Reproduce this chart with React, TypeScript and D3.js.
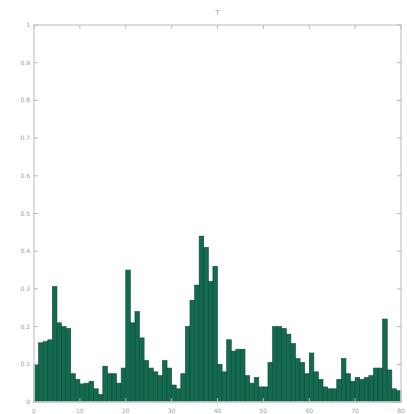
import React from "react";
import * as d3 from "d3";

const binValues: number[] = [
  0.1, 0.157, 0.16, 0.165, 0.306, 0.21, 0.2, 0.195, 0.075, 0.06,
  0.048, 0.05, 0.055, 0.035, 0.02, 0.095, 0.075, 0.075, 0.05, 0.09,
  0.35, 0.21, 0.24, 0.17, 0.11, 0.09, 0.08, 0.07, 0.11, 0.09,
  0.045, 0.035, 0.075, 0.2, 0.27, 0.31, 0.44, 0.41, 0.32, 0.36,
  0.1, 0.08, 0.165, 0.135, 0.14, 0.14, 0.07, 0.05, 0.065, 0.04,
  0.04, 0.105, 0.2, 0.2, 0.195, 0.18, 0.155, 0.115, 0.105, 0.075,
  0.13, 0.08, 0.06, 0.04, 0.035, 0.035, 0.06, 0.115, 0.075, 0.055,
  0.065, 0.06, 0.065, 0.07, 0.09, 0.09, 0.22, 0.085, 0.035, 0.03,
];
const xTicks: number[] = [0, 10, 20, 30, 40, 50, 60, 70, 80];
const yTicks: number[] = [0, 0.1, 0.2, 0.3, 0.4, 0.5, 0.6, 0.7, 0.8, 0.9, 1];
const titleText = "T";

export default function App() {
  const W = 407, H = 414;
  const m = { left: 34, right: 6, top: 25, bottom: 12 };
  const x = d3.scaleLinear().domain([0, 80]).range([m.left, W - m.right]);
  const y = d3.scaleLinear().domain([0, 1]).range([H - m.bottom, m.top]);
  const fmt = (v: number) => (v === 0 ? "0" : v === 1 ? "1" : d3.format(".1f")(v));
  const tickLen = 4;
  const tickColor = "#b8b8b8";
  const labelColor = "#a0a0a0";
  return (
    <svg width={W} height={H} style={{ position: "absolute", left: 0, top: 0, background: "#fff" }}>
      <g>
        {binValues.map((v, i) => (
          <rect
            key={i}
            x={x(i)}
            y={y(v)}
            width={x(i + 1) - x(i)}
            height={y(0) - y(v)}
            fill="#136a50"
            stroke="#0b4a38"
            strokeWidth={0.6}
          />
        ))}
      </g>
      <rect
        x={m.left}
        y={m.top}
        width={W - m.left - m.right}
        height={H - m.top - m.bottom}
        fill="none"
        stroke="#d4d4d4"
        strokeWidth={1.6}
      />
      {xTicks.map((t) => (
        <g key={"x" + t}>
          <line x1={x(t)} x2={x(t)} y1={y(0)} y2={y(0) - tickLen} stroke={tickColor} />
          <line x1={x(t)} x2={x(t)} y1={y(1)} y2={y(1) + tickLen} stroke={tickColor} />
          <text x={x(t)} y={H - 1} fontSize={6} fill={labelColor} textAnchor="middle" fontFamily="DejaVu Sans">
            {t}
          </text>
        </g>
      ))}
      {yTicks.map((t) => (
        <g key={"y" + t}>
          <line x1={m.left} x2={m.left + tickLen} y1={y(t)} y2={y(t)} stroke={tickColor} />
          <line x1={W - m.right} x2={W - m.right - tickLen} y1={y(t)} y2={y(t)} stroke={tickColor} />
          <text x={m.left - 4} y={y(t) + 2} fontSize={6} fill={labelColor} textAnchor="end" fontFamily="DejaVu Sans">
            {fmt(t)}
          </text>
        </g>
      ))}
      <text x={(m.left + W - m.right) / 2} y={15} fontSize={7} fill={labelColor} textAnchor="middle" fontFamily="DejaVu Sans">
        {titleText}
      </text>
    </svg>
  );
}
